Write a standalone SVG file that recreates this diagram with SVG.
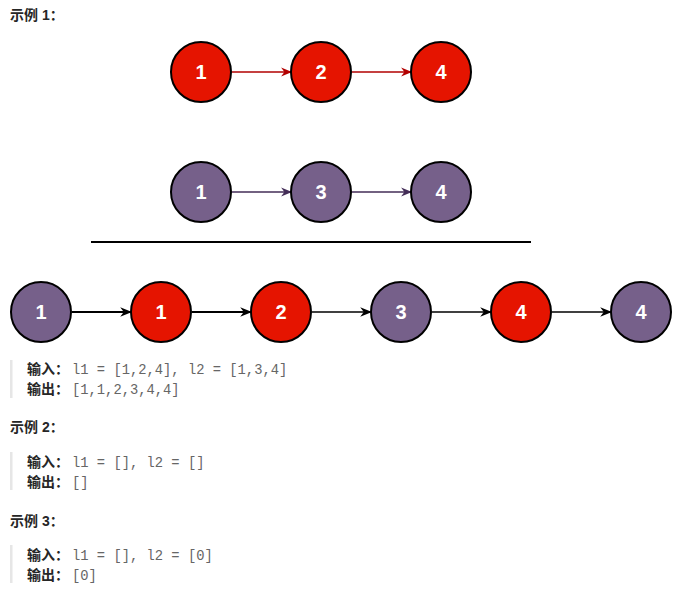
<svg xmlns="http://www.w3.org/2000/svg" width="698" height="607" viewBox="0 0 698 607">
<style>
.red{fill:#e51400;stroke:#000;stroke-width:2}
.pur{fill:#76608a;stroke:#000;stroke-width:2}
.lbl{font-family:"Liberation Sans",Arial,sans-serif;font-weight:bold;font-size:20px;fill:#fff;text-anchor:middle}
.h{font-family:"Liberation Sans","Noto Sans CJK SC",sans-serif;font-weight:bold;font-size:14px;fill:#262626}
.k{font-family:"Noto Sans CJK SC",sans-serif;font-weight:bold;font-size:14px;fill:#262626}
.c{font-family:"Liberation Mono","DejaVu Sans Mono",monospace;font-size:13.8px;fill:#666}
.bar{fill:#e6e6e6}
</style>
<defs>
<marker id="ar" viewBox="0 0 10 10" refX="9" refY="5" markerWidth="11" markerHeight="11" markerUnits="userSpaceOnUse" orient="auto"><path d="M0,1 L10,5 L0,9 L3,5 Z" fill="#b20000"/></marker>
<marker id="ap" viewBox="0 0 10 10" refX="9" refY="5" markerWidth="11" markerHeight="11" markerUnits="userSpaceOnUse" orient="auto"><path d="M0,1 L10,5 L0,9 L3,5 Z" fill="#432d57"/></marker>
<marker id="ak" viewBox="0 0 10 10" refX="9" refY="5" markerWidth="12" markerHeight="12" markerUnits="userSpaceOnUse" orient="auto"><path d="M0,1 L10,5 L0,9 L3,5 Z" fill="#000"/></marker>
</defs>
<g id="connectors">
<line x1="232" y1="72" x2="291" y2="72" stroke="#b20000" stroke-width="1.5" marker-end="url(#ar)"/>
<line x1="352" y1="72" x2="411" y2="72" stroke="#b20000" stroke-width="1.5" marker-end="url(#ar)"/>
<line x1="232" y1="192" x2="291" y2="192" stroke="#432d57" stroke-width="1.5" marker-end="url(#ap)"/>
<line x1="352" y1="192" x2="411" y2="192" stroke="#432d57" stroke-width="1.5" marker-end="url(#ap)"/>
<line x1="72" y1="312" x2="131" y2="312" stroke="#000" stroke-width="2" marker-end="url(#ak)"/>
<line x1="192" y1="312" x2="251" y2="312" stroke="#000" stroke-width="2" marker-end="url(#ak)"/>
<line x1="312" y1="312" x2="371" y2="312" stroke="#000" stroke-width="1.5" marker-end="url(#ak)"/>
<line x1="432" y1="312" x2="491" y2="312" stroke="#000" stroke-width="1.5" marker-end="url(#ak)"/>
<line x1="552" y1="312" x2="611" y2="312" stroke="#000" stroke-width="1.5" marker-end="url(#ak)"/>
</g>
<line x1="91" y1="242" x2="531" y2="242" stroke="#000" stroke-width="2"/>
<g id="a1"><circle class="red" cx="201" cy="72" r="30"/><text class="lbl" x="201" y="79">1</text></g>
<g id="a2"><circle class="red" cx="321" cy="72" r="30"/><text class="lbl" x="321" y="79">2</text></g>
<g id="a4"><circle class="red" cx="441" cy="72" r="30"/><text class="lbl" x="441" y="79">4</text></g>
<g id="b1"><circle class="pur" cx="201" cy="192" r="30"/><text class="lbl" x="201" y="199">1</text></g>
<g id="b3"><circle class="pur" cx="321" cy="192" r="30"/><text class="lbl" x="321" y="199">3</text></g>
<g id="b4"><circle class="pur" cx="441" cy="192" r="30"/><text class="lbl" x="441" y="199">4</text></g>
<g id="m1"><circle class="pur" cx="41" cy="312" r="30"/><text class="lbl" x="41" y="319">1</text></g>
<g id="m2"><circle class="red" cx="161" cy="312" r="30"/><text class="lbl" x="161" y="319">1</text></g>
<g id="m3"><circle class="red" cx="281" cy="312" r="30"/><text class="lbl" x="281" y="319">2</text></g>
<g id="m4"><circle class="pur" cx="401" cy="312" r="30"/><text class="lbl" x="401" y="319">3</text></g>
<g id="m5"><circle class="red" cx="521" cy="312" r="30"/><text class="lbl" x="521" y="319">4</text></g>
<g id="m6"><circle class="pur" cx="641" cy="312" r="30"/><text class="lbl" x="641" y="319">4</text></g>
<text class="h" x="10" y="20">示例 1：</text>
<rect class="bar" x="10" y="360" width="2.5" height="38"/>
<text class="k" x="27" y="374">输入：</text><text class="c" x="72" y="374">l1 = [1,2,4], l2 = [1,3,4]</text>
<text class="k" x="27" y="394">输出：</text><text class="c" x="72" y="394">[1,1,2,3,4,4]</text>
<text class="h" x="10" y="432">示例 2：</text>
<rect class="bar" x="10" y="452" width="2.5" height="38"/>
<text class="k" x="27" y="467">输入：</text><text class="c" x="72" y="467">l1 = [], l2 = []</text>
<text class="k" x="27" y="487">输出：</text><text class="c" x="72" y="487">[]</text>
<text class="h" x="10" y="526">示例 3：</text>
<rect class="bar" x="10" y="545" width="2.5" height="38"/>
<text class="k" x="27" y="560">输入：</text><text class="c" x="72" y="560">l1 = [], l2 = [0]</text>
<text class="k" x="27" y="580">输出：</text><text class="c" x="72" y="580">[0]</text>
</svg>
